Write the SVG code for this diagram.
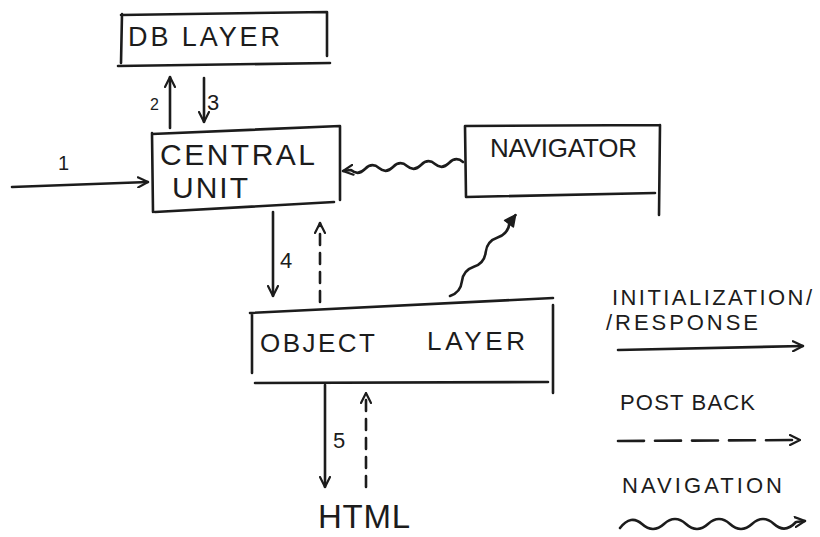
<svg xmlns="http://www.w3.org/2000/svg" width="820" height="537" viewBox="0 0 820 537">
<style>
.ln{fill:none;stroke:#1c1c1c;stroke-width:2.6;stroke-linecap:round;stroke-linejoin:round}
.dash{stroke-dasharray:11 8}
.ldash{stroke-dasharray:26 11}
.t{font-family:"Liberation Sans",Arial,sans-serif;fill:#1c1c1c}
</style>
<defs>
<marker id="open" viewBox="0 0 12 12" refX="11" refY="6" markerWidth="12" markerHeight="12" markerUnits="userSpaceOnUse" orient="auto">
<path d="M1,1 L11,6 L1,11" fill="none" stroke="#1c1c1c" stroke-width="2.2" stroke-linecap="round"/>
</marker>
<marker id="filled" viewBox="0 0 12 12" refX="11" refY="6" markerWidth="13" markerHeight="13" markerUnits="userSpaceOnUse" orient="auto">
<path d="M1,1 L11,6 L1,11 Z" fill="#1c1c1c" stroke="#1c1c1c" stroke-width="1.5" stroke-linejoin="round"/>
</marker>
</defs>
<rect width="820" height="537" fill="#ffffff"/>

<g id="db-layer">
<path class="ln" d="M121,15 L327,12 M122,14 L121,63 M327,12 L327,56 M118,66 L330,63"/>
<text class="t" x="128" y="46" font-size="27" textLength="152">DB LAYER</text>
</g>

<g id="central-unit">
<path class="ln" d="M152,134 L340,126 M152,133 L153,212 M340,126 L340,200 M155,212 L334,202"/>
<text class="t" x="160" y="165" font-size="30" textLength="155">CENTRAL</text>
<text class="t" x="172" y="198" font-size="30" textLength="76">UNIT</text>
</g>

<g id="navigator">
<path class="ln" d="M465,126 L660,125 M465,126 L466,197 M660,125 L659,215 M466,197 L655,193"/>
<text class="t" x="490" y="157" font-size="26" textLength="147">NAVIGATOR</text>
</g>

<g id="object-layer">
<path class="ln" d="M250,313 L553,298 M252,313 L252,373 M553,305 L553,393 M255,383 L548,382"/>
<text class="t" x="260" y="352" font-size="26" textLength="115">OBJECT</text>
<text class="t" x="427" y="350" font-size="26" textLength="98">LAYER</text>
</g>

<g id="html">
<text class="t" x="318" y="528" font-size="33" textLength="92">HTML</text>
</g>

<g id="connectors">
<path class="ln" d="M12,187 L148,182" marker-end="url(#open)"/>
<text class="t" x="58" y="170" font-size="20">1</text>
<path class="ln" d="M170,128 L170,77" marker-end="url(#open)"/>
<text class="t" x="150" y="110" font-size="16">2</text>
<path class="ln" d="M204,78 L204,122" marker-end="url(#open)"/>
<text class="t" x="207" y="110" font-size="22">3</text>
<path class="ln" d="M273,212 L273,296" marker-end="url(#open)"/>
<text class="t" x="280" y="268" font-size="22">4</text>
<path class="ln dash" d="M320,302 L320,223" marker-end="url(#open)"/>
<path class="ln" d="M325,385 L325,487" marker-end="url(#open)"/>
<text class="t" x="333" y="448" font-size="22">5</text>
<path class="ln dash" d="M366,487 L366,393" marker-end="url(#open)"/>
<path class="ln" d="M463,162 q-7,-6 -14,1 t-14,1 t-14,1 t-14,1 t-14,1 t-14,1 t-14,1 t-14,1 l-8,1" marker-end="url(#open)"/>
<path class="ln" d="M450,296 q10.6,-3.5 11.9,-14.6 t11.9,-14.6 t11.9,-14.6 t11.9,-14.6 t11.9,-14.6 l6,-8" marker-end="url(#filled)"/>
</g>

<g id="legend">
<text class="t" x="612" y="305" font-size="22" textLength="200">INITIALIZATION/</text>
<text class="t" x="606" y="330" font-size="22" textLength="152">/RESPONSE</text>
<path class="ln" d="M618,350 L803,346" marker-end="url(#open)"/>
<text class="t" x="620" y="410" font-size="22" textLength="135">POST BACK</text>
<path class="ln ldash" d="M618,441 L800,440" marker-end="url(#open)"/>
<text class="t" x="622" y="493" font-size="22" textLength="160">NAVIGATION</text>
<path class="ln" d="M620,528 q11,-14 22,-4 t22,0 t22,0 t22,0 t22,0 t22,0 t22,0 t22,-2 l9,-1" marker-end="url(#open)"/>
</g>
</svg>
